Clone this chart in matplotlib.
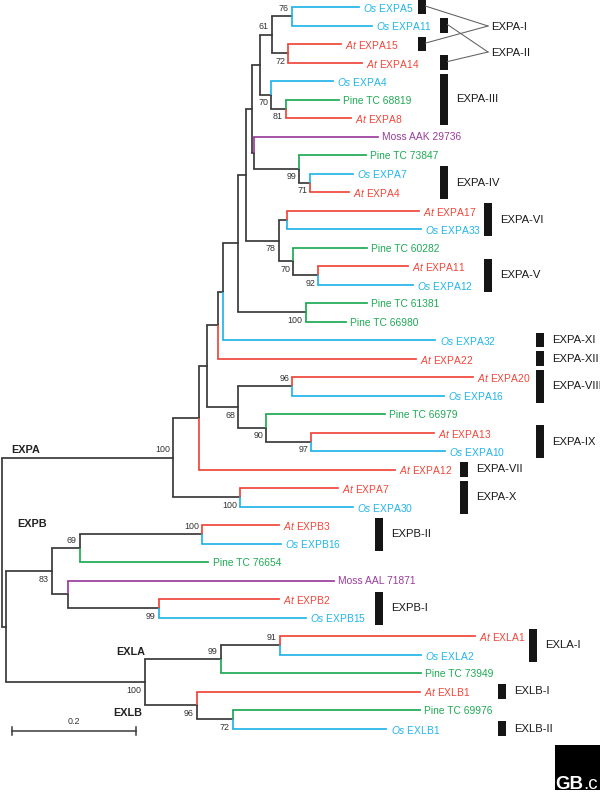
import matplotlib
matplotlib.use('Agg')
import matplotlib.pyplot as plt
from matplotlib.patches import Rectangle

plt.rcParams['font.family'] = ['Liberation Sans', 'DejaVu Sans']
plt.rcParams['mathtext.fontset'] = 'custom'
plt.rcParams['mathtext.it'] = 'Liberation Sans:italic'
plt.rcParams['mathtext.rm'] = 'Liberation Sans'

# ---------------- data: tree (branch lengths in substitutions/site, bootstrap) ----------------
def leaf(name, bl):
    return {'name': name, 'bl': bl, 'kids': [], 'boot': None}

def clade(kids, bl, boot=None):
    return {'name': None, 'bl': bl, 'kids': kids, 'boot': boot}

expa_I_II = clade([clade([leaf('Os EXPA5', 0.108), leaf('Os EXPA11', 0.129)], 0.032, 76),
                   clade([leaf('At EXPA15', 0.084), leaf('At EXPA14', 0.119)], 0.027, 72)], 0.019, 61)
expa_III = clade([leaf('Os EXPA4', 0.100),
                  clade([leaf('Pine TC 68819', 0.085), leaf('At EXPA8', 0.105)], 0.024, 81)], 0.018, 70)
expa_IV = clade([leaf('Moss AAK 29736', 0.200),
                 clade([leaf('Pine TC 73847', 0.108),
                        clade([leaf('Os EXPA7', 0.069), leaf('At EXPA4', 0.063)], 0.018, 71)], 0.073, 99)], 0.003)
expa_V_VI = clade([clade([leaf('At EXPA17', 0.213), leaf('Os EXPA33', 0.216)], 0.013),
                   clade([leaf('Pine TC 60282', 0.119),
                          clade([leaf('At EXPA11', 0.145), leaf('Os EXPA12', 0.153)], 0.040, 92)], 0.024, 70)],
                  0.053, 78)
pine_pair = clade([leaf('Pine TC 61381', 0.098), leaf('Pine TC 66980', 0.065)], 0.110, 100)
expa_VIII_IX = clade([clade([leaf('At EXPA20', 0.292), leaf('Os EXPA16', 0.245)], 0.087, 96),
                      clade([leaf('Pine TC 66979', 0.192),
                             clade([leaf('At EXPA13', 0.197), leaf('Os EXPA10', 0.216)], 0.073, 97)], 0.045, 90)],
                     0.050, 68)
expa_X = clade([leaf('At EXPA7', 0.158), leaf('Os EXPA30', 0.182)], 0.108, 100)

upper = clade([clade([clade([expa_I_II, expa_III], 0.013), expa_IV], 0.010), expa_V_VI], 0.013)
expa = clade([clade([clade([clade([clade([clade([upper, pine_pair], 0.023),
                                          leaf('Os EXPA32', 0.342)], 0.008),
                                   leaf('At EXPA22', 0.318)], 0.018),
                            expa_VIII_IX], 0.013),
                     leaf('At EXPA12', 0.316)], 0.042),
              expa_X], 0.276, 100)

expb = clade([clade([clade([leaf('At EXPB3', 0.123), leaf('Os EXPB16', 0.127)], 0.198, 100),
                     leaf('Pine TC 76654', 0.208)], 0.045, 69),
              clade([leaf('Moss AAL 71871', 0.429),
                     clade([leaf('At EXPB2', 0.194), leaf('Os EXPB15', 0.237)], 0.147, 99)], 0.026)],
             0.074, 83)
exla = clade([clade([leaf('At EXLA1', 0.315), leaf('Os EXLA2', 0.227)], 0.095, 91),
              leaf('Pine TC 73949', 0.323)], 0.123, 99)
exlb = clade([leaf('At EXLB1', 0.360),
              clade([leaf('Pine TC 69976', 0.302), leaf('Os EXLB1', 0.248)], 0.058, 72)], 0.084, 96)
exl = clade([exla, exlb], 0.224, 100)
root = clade([expa, clade([expb, exl], 0.006)], 0.0)

# bootstrap labels drawn above the branch (identified by first/last leaf of the clade)
boot_above = [('Os EXPA5', 'Os EXPA11'), ('Os EXPA5', 'At EXPA14'), ('At EXPA20', 'Os EXPA16'),
              ('Os EXPA5', 'Os EXPA30'), ('At EXPB3', 'Os EXPB16'), ('At EXPB3', 'Pine TC 76654'),
              ('At EXLA1', 'Pine TC 73949'), ('At EXLA1', 'Os EXLA2')]

# subfamily bars: (label, first leaf, last leaf)
bar_groups = [('EXPA-III', 'Os EXPA4', 'At EXPA8'), ('EXPA-IV', 'Os EXPA7', 'At EXPA4'),
              ('EXPA-VI', 'At EXPA17', 'Os EXPA33'), ('EXPA-V', 'At EXPA11', 'Os EXPA12'),
              ('EXPA-XI', 'Os EXPA32', 'Os EXPA32'), ('EXPA-XII', 'At EXPA22', 'At EXPA22'),
              ('EXPA-VIII', 'At EXPA20', 'Os EXPA16'), ('EXPA-IX', 'At EXPA13', 'Os EXPA10'),
              ('EXPA-VII', 'At EXPA12', 'At EXPA12'), ('EXPA-X', 'At EXPA7', 'Os EXPA30'),
              ('EXPB-II', 'At EXPB3', 'Os EXPB16'), ('EXPB-I', 'At EXPB2', 'Os EXPB15'),
              ('EXLA-I', 'At EXLA1', 'Os EXLA2'), ('EXLB-I', 'At EXLB1', 'At EXLB1'),
              ('EXLB-II', 'Os EXLB1', 'Os EXLB1')]
split_groups = [('EXPA-I', ['Os EXPA5', 'At EXPA15']), ('EXPA-II', ['Os EXPA11', 'At EXPA14'])]
clade_names = ['EXPA', 'EXPB', 'EXLA', 'EXLB']
scale_length = 0.2

# ---------------- styling ----------------
species_colors = {'Os': '#22b5e8', 'At': '#f0473a', 'Pine': '#1faa55', 'Moss': '#9a3d9c'}
dark = '#3a3a3a'
LW = 1.25

fig = plt.figure(figsize=(6.0, 7.99), dpi=100)
ax = fig.add_axes([0, 0, 1, 1])
ax.axis('off')
UNIT = 620.0   # pixels per substitution unit
ROWS = 18.5    # pixels per leaf row
ax.set_xlim(-2 / UNIT, 598 / UNIT)
ax.set_ylim((799 - 7) / ROWS, -7 / ROWS)

def X(px):
    return (px - 2) / UNIT

def Y(py):
    return (py - 7) / ROWS

# layout
leaf_y = {}
counter = [0]

def layout(node, x0):
    node['x'] = x0 + node['bl']
    if not node['kids']:
        node['y'] = counter[0]
        leaf_y[node['name']] = counter[0]
        counter[0] += 1
        node['first'] = node['last'] = node['name']
    else:
        for k in node['kids']:
            layout(k, node['x'])
        node['y'] = (node['kids'][0]['y'] + node['kids'][-1]['y']) / 2
        node['first'] = node['kids'][0]['first']
        node['last'] = node['kids'][-1]['last']

layout(root, 0.0)

def color_of(node):
    if node['kids']:
        return dark
    return species_colors[node['name'].split()[0]]

def leaf_label(name):
    sp, rest = name.split(' ', 1)
    if sp in ('Os', 'At'):
        return r'$\mathit{' + sp + '}$ ' + rest
    return name

def draw(node):
    x, y = node['x'], node['y']
    for k in node['kids']:
        c = color_of(k)
        ax.plot([x, x], [y, k['y']], color=c, lw=LW, solid_capstyle='butt')
        ax.plot([x, k['x']], [k['y'], k['y']], color=c, lw=LW, solid_capstyle='projecting')
        draw(k)
    if not node['kids']:
        ax.annotate(leaf_label(node['name']), xy=(x, y), xytext=(3, 0), textcoords='offset points',
                    ha='left', va='center_baseline', fontsize=7.4, color=color_of(node))
    elif node['boot'] is not None:
        up = (node['first'], node['last']) in boot_above
        ax.annotate(str(node['boot']), xy=(x, y), xytext=(-2.2, 5.6 if up else -5.8),
                    textcoords='offset points', ha='right', va='center', fontsize=6.4, color='#333333')

draw(root)

# subfamily bars
bar_cols = {'EXPA-III': 440, 'EXPA-IV': 440, 'EXPA-VI': 484, 'EXPA-V': 484, 'EXPA-XI': 536,
            'EXPA-XII': 536, 'EXPA-VIII': 536, 'EXPA-IX': 536, 'EXPA-VII': 460, 'EXPA-X': 460,
            'EXPB-II': 375, 'EXPB-I': 375, 'EXLA-I': 529, 'EXLB-I': 498, 'EXLB-II': 498}
bw = X(7.5) - X(0)
for name, a, b in bar_groups:
    y0, y1 = leaf_y[a] - 0.4, leaf_y[b] + 0.4
    px = bar_cols[name]
    ax.add_patch(Rectangle((X(px), y0), bw, y1 - y0, color='#151515', lw=0))
    ax.text(X(px + 16), (y0 + y1) / 2, name, ha='left', va='center', fontsize=8.1, color='#1a1a1a')

split_cols = {'EXPA-I': 418, 'EXPA-II': 440}
split_targets = {'EXPA-I': 26, 'EXPA-II': 52}
for name, members in split_groups:
    px = split_cols[name]
    ty = Y(split_targets[name])
    for m in members:
        yy = leaf_y[m]
        ax.add_patch(Rectangle((X(px), yy - 0.4), bw, 0.8, color='#151515', lw=0))
        ax.plot([X(px) + bw, X(488)], [yy - 0.05, ty], color='#606060', lw=0.75)
    ax.text(X(491), ty + 0.05, name, ha='left', va='center', fontsize=8.1, color='#1a1a1a')

# clade names
clade_pos = {'EXPA': (26, 450), 'EXPB': (32, 524), 'EXLA': (131, 652), 'EXLB': (128, 713)}
for cn in clade_names:
    px, py = clade_pos[cn]
    ax.text(X(px), Y(py), cn, ha='center', va='center', fontsize=7.8, fontweight='bold', color='#222222')

# scale bar
sy = Y(731)
sx0 = X(12)
ax.plot([sx0, sx0 + scale_length], [sy, sy], color=dark, lw=1.1)
for xx in (sx0, sx0 + scale_length):
    ax.plot([xx, xx], [sy - 0.2, sy + 0.2], color=dark, lw=1.1)
ax.text(sx0 + scale_length / 2, Y(722), '0.2', ha='center', va='center', fontsize=6.4, color='#333333')

# logo
fig.patches.append(Rectangle((555 / 600, 1 - 790 / 799), 45 / 600, 45 / 799,
                             transform=fig.transFigure, color='black', lw=0))
gb = fig.text(555 / 600, 1 - 789 / 799, 'GB', color='white', fontsize=13.5, fontweight='bold',
              va='baseline', ha='left')
fig.canvas.draw()
bb = gb.get_window_extent()
fig.text((bb.x1 + 0.5) / 600, 1 - 789 / 799, '.c', color='white', fontsize=13.5,
         va='baseline', ha='left')

fig.savefig('out.png', dpi=100)
